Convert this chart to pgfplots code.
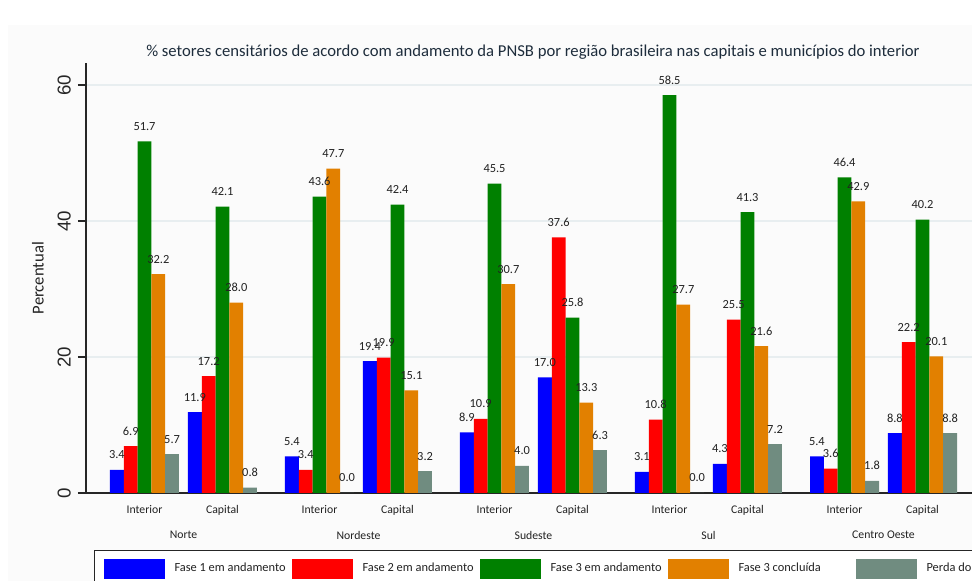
\documentclass[border=0pt]{standalone}
\usepackage{fontspec}
\setmainfont{Carlito}
\newfontfamily\arial{Liberation Sans}
\usepackage{pgfplots}
\usepackage{pgfplotstable}
\pgfplotsset{compat=1.18}

\definecolor{fone}{RGB}{0,0,255}
\definecolor{ftwo}{RGB}{255,0,0}
\definecolor{fthree}{RGB}{0,128,0}
\definecolor{fconc}{RGB}{226,128,0}
\definecolor{perda}{RGB}{112,140,128}
\definecolor{gridc}{RGB}{232,238,240}
\definecolor{titlec}{RGB}{30,45,60}
\definecolor{txt}{RGB}{34,34,34}

\pgfplotsset{legsq/.style={legend image code/.code={\fill[##1] (0pt,-7.5pt) rectangle (45.75pt,7.5pt);}}}

% x: Interior / Capital of each region
\pgfplotstableread{
x      fone ftwo fthree fconc perda
0      3.4  6.9  51.7   32.2  5.7
1      11.9 17.2 42.1   28.0  0.8
2.2436 5.4  3.4  43.6   47.7  0.0
3.2436 19.4 19.9 42.4   15.1  3.2
4.4872 8.9  10.9 45.5   30.7  4.0
5.4872 17.0 37.6 25.8   13.3  6.3
6.7308 3.1  10.8 58.5   27.7  0.0
7.7308 4.3  25.5 41.3   21.6  7.2
8.9744 5.4  3.6  46.4   42.9  1.8
9.9744 8.8  22.2 40.2   20.1  8.8
}\pnsb

\begin{document}
\begin{tikzpicture}
\useasboundingbox (-64.5pt,-66pt) rectangle (664.5pt,369.75pt);
\clip (-64.5pt,-66pt) rectangle (664.5pt,369.75pt);
\fill[black!1.5] (-58.5pt,-66pt) rectangle (664.5pt,351pt);
\begin{axis}[
  scale only axis,
  width=674.5pt, height=322.3pt,
  xmin=-0.75, xmax=10.78,
  ymin=0, ymax=63.2,
  ybar=0pt, bar width=10.35pt,
  axis x line*=bottom, axis y line*=left,
  axis line style={draw=black!85, line width=0.8pt},
  /pgf/number format/assume math mode=true,
  xtick={0,1,2.2436,3.2436,4.4872,5.4872,6.7308,7.7308,8.9744,9.9744},
  xticklabels={Interior,Capital,Interior,Capital,Interior,Capital,Interior,Capital,Interior,Capital},
  extra x ticks={0.5,2.7436,4.9872,7.2308,9.4744},
  extra x tick labels={Norte,Nordeste,Sudeste,Sul,Centro Oeste},
  extra x tick style={major tick length=0pt, xticklabel style={yshift=-25.5pt}},
  x tick style={draw=none},
  xticklabel style={font=\fontsize{8.8}{10}\selectfont, text=txt, inner sep=0pt, anchor=north, yshift=-3pt},
  ytick={0,20,40,60},
  tick align=outside,
  y tick style={draw=black!85, line width=0.8pt},
  major tick length=6pt,
  yticklabel style={font=\arial\fontsize{14}{14}\selectfont, text=black!85, rotate=90, anchor=south, inner sep=0pt, yshift=5.25pt},
  ymajorgrids=true,
  grid style={draw=gridc, line width=0.8pt},
  ylabel={Percentual},
  every axis y label/.style={at={(axis description cs:-0.0534,0.5)}, rotate=90, anchor=center, font=\fontsize{12.5}{13}\selectfont, text=txt},
  title={\% setores censitários de acordo com andamento da PNSB por região brasileira nas capitais e municípios do interior},
  title style={at={(0.497,1)}, anchor=base, yshift=-0.6pt, font=\fontsize{12.5}{13}\selectfont, text=titlec},
  nodes near coords={\pgfmathprintnumber[fixed,fixed zerofill,precision=1,assume math mode=true]{\pgfplotspointmeta}},
  every node near coord/.append style={font=\fontsize{9.3}{10}\selectfont, text=txt, anchor=base, inner sep=0pt, yshift=8.25pt},
  legend style={at={(0.0089,-0.1326)}, anchor=north west, draw=black!85, line width=0.8pt,
    inner xsep=6.75pt, inner ysep=6pt, font=\fontsize{9.3}{10}\selectfont, text=txt,
    nodes={inner sep=0pt}, column sep=0pt,
    /tikz/every odd column/.append style={column sep=7.5pt}},
  legend columns=5,
  legend cell align=left,
]
\addplot[fill=fone, draw=none, legsq] table[x=x, y=fone] {\pnsb};
\addlegendentry{\makebox[87.75pt][l]{Fase 1 em andamento}}
\addplot[fill=ftwo, draw=none, legsq] table[x=x, y=ftwo] {\pnsb};
\addlegendentry{\makebox[87.75pt][l]{Fase 2 em andamento}}
\addplot[fill=fthree, draw=none, legsq] table[x=x, y=fthree] {\pnsb};
\addlegendentry{\makebox[87.75pt][l]{Fase 3 em andamento}}
\addplot[fill=fconc, draw=none, legsq] table[x=x, y=fconc] {\pnsb};
\addlegendentry{\makebox[87.75pt][l]{Fase 3 concluída}}
\addplot[fill=perda, draw=none, legsq] table[x=x, y=perda] {\pnsb};
\addlegendentry{\makebox[87.75pt][l]{Perda do setor}}
\end{axis}
\end{tikzpicture}
\end{document}
